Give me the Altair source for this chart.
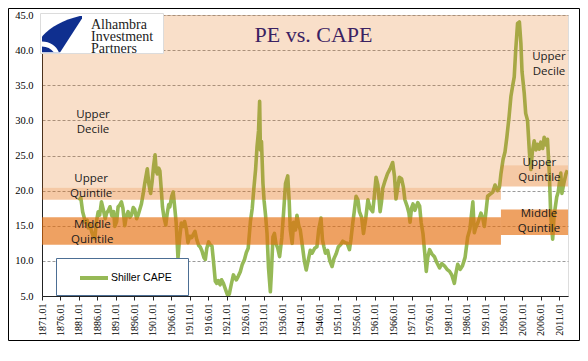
import urllib.parse
import altair as alt
import pandas as pd

# ---------------- data ----------------
series_name = "Shiller CAPE"
chart_title = "PE vs. CAPE"
logo_lines = "Alhambra\nInvestment\nPartners"

cape_year = [
    1881.0, 1881.5, 1882.0, 1882.4, 1882.7, 1883.2, 1883.5, 1883.9, 1884.4, 1884.9,
    1885.3, 1885.7, 1886.2, 1886.6, 1887.1, 1887.6, 1888.1, 1888.5, 1889.0, 1889.4,
    1889.9, 1890.4, 1890.7, 1891.2, 1891.6, 1892.0, 1892.5, 1892.9, 1893.4, 1893.8,
    1894.3, 1894.8, 1895.2, 1895.7, 1896.1, 1896.6, 1897.0, 1897.5, 1897.9, 1898.4,
    1898.8, 1899.2, 1899.5, 1899.9, 1900.4, 1900.8, 1901.2, 1901.6, 1901.9, 1902.2,
    1902.6, 1902.9, 1903.3, 1903.6, 1904.0, 1904.5, 1904.9, 1905.3, 1905.6, 1906.1,
    1906.5, 1906.9, 1907.3, 1907.8, 1908.2, 1908.7, 1909.2, 1909.6, 1910.1, 1910.5,
    1911.0, 1911.5, 1912.0, 1912.4, 1912.9, 1913.4, 1913.8, 1914.3, 1914.8, 1915.2,
    1915.6, 1916.1, 1916.5, 1917.0, 1917.4, 1917.9, 1918.3, 1918.7, 1919.2, 1919.6,
    1920.1, 1920.5, 1920.9, 1921.3, 1921.7, 1922.2, 1922.8, 1923.2, 1923.6, 1924.1,
    1924.7, 1925.2, 1925.8, 1926.3, 1926.8, 1927.4, 1927.9, 1928.3, 1928.8, 1929.2,
    1929.6, 1929.9, 1930.1, 1930.4, 1930.8, 1931.1, 1931.5, 1931.9, 1932.3, 1932.8,
    1933.1, 1933.5, 1933.9, 1934.3, 1934.8, 1935.3, 1935.9, 1936.4, 1936.9, 1937.5,
    1937.9, 1938.2, 1938.7, 1939.1, 1939.6, 1940.0, 1940.5, 1940.9, 1941.5, 1942.0,
    1942.5, 1943.1, 1943.6, 1944.1, 1944.8, 1945.4, 1945.9, 1946.5, 1946.9, 1947.3,
    1947.7, 1948.3, 1948.9, 1949.5, 1950.0, 1950.6, 1951.2, 1951.8, 1952.4, 1953.0,
    1953.6, 1954.2, 1954.6, 1955.1, 1955.5, 1956.0, 1956.5, 1956.9, 1957.5, 1958.0,
    1958.6, 1959.2, 1959.8, 1960.5, 1960.9, 1961.4, 1961.9, 1962.5, 1962.9, 1963.2,
    1963.9, 1964.5, 1965.2, 1965.9, 1966.4, 1966.8, 1967.3, 1967.7, 1968.3, 1968.8,
    1969.2, 1969.8, 1970.3, 1970.6, 1971.0, 1971.4, 1971.9, 1972.7, 1973.2, 1973.6,
    1974.1, 1974.6, 1975.0, 1975.4, 1975.9, 1976.5, 1977.2, 1977.8, 1978.6, 1979.2,
    1979.9, 1980.6, 1981.3, 1981.9, 1982.6, 1983.0, 1983.5, 1984.2, 1984.8, 1985.5,
    1986.2, 1986.8, 1987.6, 1988.0, 1988.3, 1989.0, 1989.8, 1990.3, 1990.7, 1991.2,
    1991.6, 1992.3, 1993.0, 1993.6, 1994.3, 1994.8, 1995.2, 1995.8, 1996.3, 1996.8,
    1997.4, 1997.9, 1998.4, 1998.8, 1999.2, 1999.7, 2000.2, 2000.6, 2000.9, 2001.5,
    2001.9, 2002.4, 2002.9, 2003.3, 2003.7, 2004.2, 2004.7, 2005.1, 2005.6, 2006.0,
    2006.5, 2006.9, 2007.4, 2007.8, 2008.3, 2008.7, 2009.2, 2009.6, 2010.3, 2010.7,
    2011.0, 2011.4, 2011.7, 2012.2, 2012.8, 2013.2,
]
cape_value = [
    18.6, 19.0, 17.0, 16.2, 15.5, 15.8, 14.7, 15.3, 14.2, 13.4,
    13.2, 15.5, 17.0, 16.5, 18.4, 17.3, 16.0, 16.8, 17.2, 17.7,
    16.4, 17.0, 14.9, 15.6, 17.7, 17.9, 18.4, 17.5, 15.0, 16.3,
    17.0, 16.2, 16.5, 17.6, 17.3, 16.0, 16.5, 17.4, 18.1, 19.6,
    21.0, 22.2, 23.1, 21.0, 19.6, 21.3, 23.5, 25.1, 22.8, 22.4,
    23.2, 22.8, 20.0, 17.7, 16.2, 15.1, 16.8, 18.0, 17.7, 19.2,
    19.8, 17.7, 15.5, 10.4, 13.0, 15.4, 14.9, 15.6, 14.4, 12.6,
    13.5, 13.3, 13.8, 14.2, 13.0, 12.2, 12.0, 11.4, 10.5, 10.2,
    11.8, 12.7, 12.3, 12.1, 10.0, 7.1, 6.8, 7.2, 6.6, 7.3,
    6.8, 6.2, 5.6, 5.0, 5.3, 6.6, 8.0, 7.6, 7.3, 7.8,
    8.5, 9.5, 10.2, 11.2, 11.8, 15.6, 17.5, 20.1, 23.0, 26.3,
    28.5, 32.7, 25.8, 27.0, 21.0, 18.6, 16.5, 13.9, 9.0, 5.6,
    8.5, 13.4, 13.9, 12.5, 11.8, 10.6, 13.3, 17.0, 21.0, 22.1,
    18.5, 14.4, 12.5, 15.5, 14.4, 16.5, 15.0, 14.4, 12.0, 10.0,
    8.7, 10.2, 11.5, 11.1, 11.8, 12.0, 14.5, 16.1, 13.0, 12.0,
    11.1, 11.5, 10.0, 9.2, 10.3, 11.0, 12.0, 12.3, 12.8, 12.6,
    12.5, 11.6, 13.0, 15.4, 17.0, 19.2, 18.7, 17.0, 16.2, 13.9,
    16.0, 18.7, 17.5, 17.0, 19.0, 21.9, 20.8, 17.0, 18.5, 20.3,
    21.5, 22.4, 23.1, 24.0, 22.0, 18.8, 20.5, 21.9, 21.7, 20.5,
    18.7, 17.8, 16.8, 15.5, 17.5, 18.1, 17.2, 18.3, 17.8, 15.5,
    13.9, 11.0, 8.5, 10.5, 11.6, 11.0, 10.6, 9.8, 9.0, 9.6,
    9.3, 8.8, 8.5, 8.0, 6.8, 8.2, 9.5, 8.8, 9.3, 10.5,
    13.4, 14.5, 18.4, 14.0, 14.6, 15.5, 16.8, 16.0, 14.9, 17.2,
    19.2, 19.5, 19.8, 20.8, 20.0, 20.5, 22.4, 24.5, 25.5, 27.6,
    30.5, 33.4, 35.0, 36.2, 40.0, 43.8, 44.0, 41.0, 37.0, 33.9,
    31.0, 30.0, 25.5, 23.0, 25.5, 27.1, 25.8, 26.6, 25.9, 26.9,
    26.0, 27.6, 26.5, 27.3, 22.4, 16.2, 13.1, 16.5, 19.1, 19.8,
    21.0, 22.5, 19.6, 21.0, 22.4, 22.9,
]

band_name = ["Upper Decile", "Upper Quintile", "Middle Quintile",
             "Upper Decile", "Upper Quintile", "Middle Quintile"]
band_start = [1871.0, 1871.0, 1871.0, 1995.2, 1995.2, 1995.2]
band_end = [1995.2, 1995.2, 1995.2, 2013.35, 2013.35, 2013.35]
band_low = [20.4, 18.7, 12.3, 23.6, 20.6, 13.7]
band_high = [45.0, 20.4, 16.2, 45.0, 23.6, 17.3]

label_text = ["Upper\nDecile", "Upper\nQuintile", "Middle\nQuintile",
              "Upper\nDecile", "Upper\nQuintile", "Middle\nQuintile"]
label_year = [1884.8, 1884.3, 1884.6, 2008.2, 2005.6, 2005.5]
label_value = [30.8, 21.6, 15.1, 39.0, 24.0, 16.7]

tick_years = list(range(1871, 2012, 5))
tick_values = [5, 10, 15, 20, 25, 30, 35, 40, 45]
x_domain = [1871.0, 2013.35]
y_domain = [5, 45]

# ---------------- tables ----------------
cape_df = pd.DataFrame({"year": cape_year, "value": cape_value, "series": series_name})
band_df = pd.DataFrame({"band": band_name, "x1": band_start, "x2": band_end,
                        "y1": band_low, "y2": band_high})
label_df = pd.DataFrame({"text": label_text, "year": label_year, "value": label_value})

xs = alt.Scale(domain=x_domain, nice=False, zero=False)
ys = alt.Scale(domain=y_domain, nice=False, zero=False)

x_axis = alt.Axis(values=tick_years, labelExpr="format(datum.value, 'd') + '.01'",
                  labelAngle=-90, grid=False, tickSize=4, tickColor="#222",
                  domainColor="#222", labelFont="Liberation Serif", labelFontSize=10,
                  labelColor="#000", labelPadding=3, title=None)
y_axis = alt.Axis(values=tick_values, format=".1f", grid=True, gridDash=[3, 2],
                  gridColor="#9a9a9a", ticks=False, domainColor="#222",
                  labelFont="Liberation Serif", labelFontSize=10.5, labelColor="#000",
                  labelPadding=9, title=None)

line = alt.Chart(cape_df).mark_line(strokeWidth=3.6, clip=True, strokeJoin="round").encode(
    x=alt.X("year:Q", scale=xs, axis=x_axis),
    y=alt.Y("value:Q", scale=ys, axis=y_axis),
    color=alt.Color("series:N",
                    scale=alt.Scale(domain=[series_name], range=["#96B956"]),
                    legend=alt.Legend(orient="none", legendX=36, legendY=247, title=None,
                                      symbolType="stroke", symbolStrokeWidth=4,
                                      symbolSize=784, labelOffset=1,
                                      labelFont="Liberation Sans", labelFontSize=10.5,
                                      labelColor="#000", padding=0)),
)

bands = alt.Chart(band_df).mark_rect().encode(
    x=alt.X("x1:Q", scale=xs, axis=x_axis),
    x2="x2:Q",
    y=alt.Y("y1:Q", scale=ys, axis=y_axis),
    y2="y2:Q",
    fill=alt.Fill("band:N",
                  scale=alt.Scale(domain=["Upper Decile", "Upper Quintile", "Middle Quintile"],
                                  range=["rgba(228,108,10,0.22)", "rgba(228,108,10,0.37)",
                                         "rgba(228,108,10,0.64)"]),
                  legend=None),
)

labels = alt.Chart(label_df).mark_text(
    font="Open Sans", fontSize=11.5, color="#1a1a1a", lineBreak="\n", lineHeight=15,
    align="center", baseline="middle",
).encode(
    x=alt.X("year:Q", scale=xs, axis=x_axis),
    y=alt.Y("value:Q", scale=ys, axis=y_axis),
    text="text:N",
)

one = pd.DataFrame({"k": [0]})

legend_box = alt.Chart(one).mark_rect(fill="white", stroke="#4C6E94", strokeWidth=1).encode(
    x=alt.value(14.5), x2=alt.value(146.5), y=alt.value(243.5), y2=alt.value(280.5)
)

logo_box = alt.Chart(one).mark_rect(fill="white", stroke="#dcdcdc", strokeWidth=1).encode(
    x=alt.value(-1.5), x2=alt.value(121.5), y=alt.value(-1.5), y2=alt.value(38.5)
)

logo_svg = (
    "<svg xmlns='http://www.w3.org/2000/svg' width='40' height='37' viewBox='0 0 40 37'>"
    "<path d='M0,21 C9,11 22,4 40,0 L40,3 L18,37 L0,37 Z' fill='#0F2F8F'/>"
    "<path d='M0,26 C8,26 14,30 17,37 L12,37 C9,33 5,31 0,31 Z' fill='white'/>"
    "</svg>"
)
logo_df = pd.DataFrame({"url": ["data:image/svg+xml;charset=utf-8," + urllib.parse.quote(logo_svg)]})
logo_img = alt.Chart(logo_df).mark_image(width=40, height=37, align="left", baseline="top").encode(
    x=alt.value(0), y=alt.value(0.5), url="url:N"
)

logo_text = alt.Chart(pd.DataFrame({"t": [logo_lines]})).mark_text(
    font="Liberation Serif", fontSize=14, color="#1c1c1c", lineBreak="\n",
    lineHeight=12, align="left", baseline="top",
).encode(x=alt.value(49), y=alt.value(3), text="t:N")

title = alt.Chart(pd.DataFrame({"t": [chart_title]})).mark_text(
    font="Liberation Serif", fontSize=22, color="#3B2262", align="center",
    baseline="alphabetic",
).encode(x=alt.value(271.5), y=alt.value(27), text="t:N")

border = alt.Chart(one).mark_rect(fill=None, stroke="#000", strokeWidth=1).encode(
    x=alt.value(-33.5), x2=alt.value(537.5), y=alt.value(-6.5), y2=alt.value(325.5)
)

chart = alt.layer(
    line, bands, labels, legend_box, logo_box, logo_img, logo_text, title, border
).resolve_scale(
    color="independent", fill="independent"
).properties(
    width=526, height=281,
    autosize=alt.AutoSizeParams(type="none"),
    padding={"left": 34, "top": 7, "right": 12, "bottom": 45},
).configure_view(
    stroke="#8a8a8a", strokeWidth=1
).configure(background="white")

chart.save("out.html", embed_options={"renderer": "svg", "actions": False})
